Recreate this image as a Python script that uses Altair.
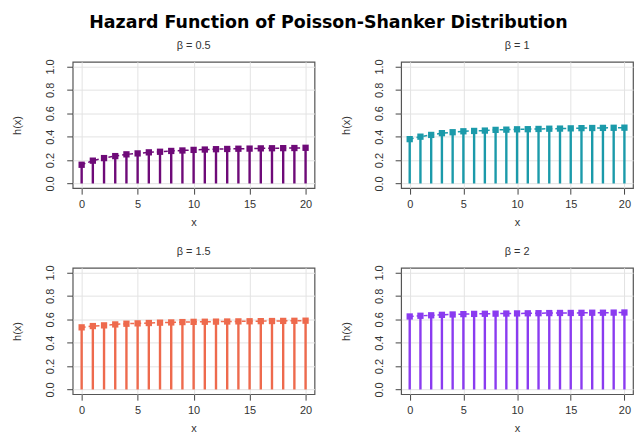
import altair as alt
import pandas as pd

x_vals = list(range(21))
betas = ["0.5", "1", "1.5", "2"]
h_b05 = [0.160, 0.195, 0.217, 0.234, 0.249, 0.257, 0.266, 0.271, 0.278, 0.282, 0.287,
         0.290, 0.293, 0.295, 0.297, 0.298, 0.300, 0.301, 0.302, 0.303, 0.305]
h_b1 = [0.379, 0.400, 0.415, 0.430, 0.438, 0.446, 0.449, 0.452, 0.458, 0.460, 0.463,
        0.464, 0.466, 0.468, 0.469, 0.471, 0.473, 0.474, 0.475, 0.476, 0.477]
h_b15 = [0.531, 0.542, 0.548, 0.556, 0.562, 0.565, 0.568, 0.571, 0.573, 0.576, 0.578,
         0.579, 0.580, 0.581, 0.582, 0.583, 0.584, 0.585, 0.586, 0.587, 0.588]
h_b2 = [0.624, 0.630, 0.634, 0.638, 0.641, 0.644, 0.646, 0.647, 0.648, 0.649, 0.650,
        0.651, 0.652, 0.653, 0.654, 0.654, 0.655, 0.656, 0.656, 0.657, 0.658]
colors = ["#6E0A78", "#1B9AAA", "#EE6A4D", "#8A3BF0"]
series = [h_b05, h_b1, h_b15, h_b2]

rows = []
for b, hs in zip(betas, series):
    for xv, hv in zip(x_vals, hs):
        rows.append({"beta": b, "x": xv, "h": hv})
df = pd.DataFrame(rows)

FONT = "Liberation Sans"


def panel(b, color, w):
    base = alt.Chart(df).transform_filter(alt.datum.beta == b)
    xs = alt.Scale(domain=[-0.8, 20.8], nice=False, zero=False)
    ys = alt.Scale(domain=[-0.04, 1.04], nice=False, zero=False)
    xax = alt.Axis(values=[0, 5, 10, 15, 20], tickCount=10, title="x", grid=True,
                   gridColor="#E3E3E3", domain=False, tickSize=6, tickColor="#444",
                   labelPadding=4, labelFontSize=11, labelColor="#333", labelFont=FONT,
                   titleFont=FONT, titleFontSize=11, titleFontWeight="normal",
                   titleColor="#333", titlePadding=8, labelFlush=False,
                   labelOverlap=False)
    yax = alt.Axis(values=[0, 0.2, 0.4, 0.6, 0.8, 1.0], tickCount=10, format=".1f",
                   title="h(x)", grid=True, gridColor="#E3E3E3", domain=False,
                   tickSize=6, tickColor="#444", labelAngle=-90, labelAlign="center",
                   labelBaseline="bottom", labelPadding=11, labelFontSize=11,
                   labelColor="#333", labelFont=FONT, titleFont=FONT, titleFontSize=11,
                   titleFontWeight="normal", titleColor="#333", titlePadding=22,
                   labelFlush=False, labelOverlap=False)
    stems = base.mark_rule(color=color, strokeWidth=2.4).encode(
        x=alt.X("x:Q", scale=xs, axis=xax),
        y=alt.Y("h:Q", scale=ys, axis=yax),
        y2=alt.datum(0),
    )
    line = base.mark_line(color=color, strokeWidth=1.5, strokeDash=[4, 3]).encode(
        x="x:Q", y="h:Q")
    pts = base.mark_square(color=color, size=40, opacity=1).encode(x="x:Q", y="h:Q")
    return alt.layer(stems, line, pts).properties(
        width=w, height=127,
        title=alt.TitleParams(f"β = {b}", fontSize=11, fontWeight="normal",
                              font=FONT, color="#333", offset=8),
    )


top = alt.hconcat(panel("0.5", colors[0], 243), panel("1", colors[1], 233), spacing=24)
bot = alt.hconcat(panel("1.5", colors[2], 243), panel("2", colors[3], 233), spacing=24)

chart = alt.vconcat(top, bot, spacing=16).properties(
    title=alt.TitleParams("Hazard Function of Poisson-Shanker Distribution",
                          fontSize=17.5, fontWeight="bold", font="DejaVu Sans",
                          color="#000", anchor="middle", offset=8, dx=6),
    padding={"left": 3, "top": 4, "right": 0, "bottom": 0},
).configure_view(stroke="#555", strokeWidth=1.2)

chart.save("out.html", embed_options={"renderer": "svg", "actions": False})
